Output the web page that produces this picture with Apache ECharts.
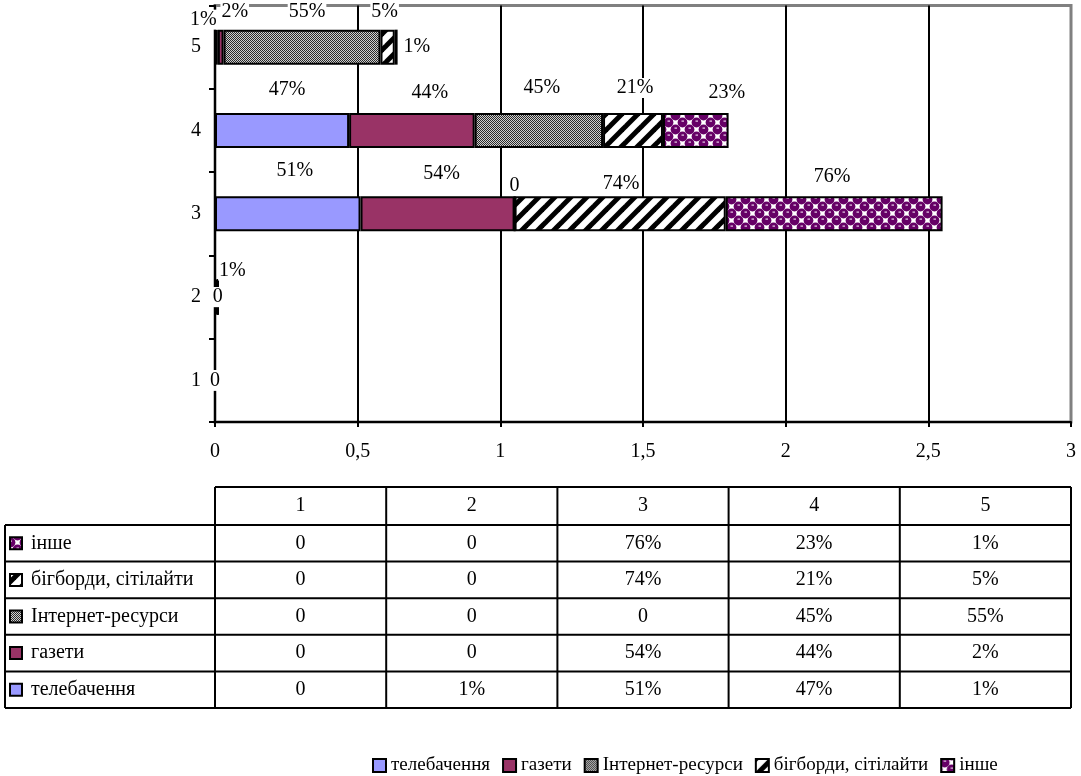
<!DOCTYPE html>
<html><head><meta charset="utf-8">
<script src="https://cdn.jsdelivr.net/npm/echarts@6/dist/echarts.min.js"></script>
<style>html,body{margin:0;padding:0;background:#fff}#c{width:1081px;height:776px}</style>
</head><body><div id="c"></div>
<script>
// ---------- data ----------
const categories = ['1', '2', '3', '4', '5'];
const seriesNames = ['телебачення', 'газети', 'Інтернет-ресурси', 'бігборди, сітілайти', 'інше'];
const tv = [0, 0.01, 0.51, 0.47, 0.01];
const newspapers = [0, 0, 0.54, 0.44, 0.02];
const internet = [0, 0, 0, 0.45, 0.55];
const billboards = [0, 0, 0.74, 0.21, 0.05];
const other = [0, 0, 0.76, 0.23, 0.01];
const xTickLabels = ['0', '0,5', '1', '1,5', '2', '2,5', '3'];
const allSeries = [tv, newspapers, internet, billboards, other];

// ---------- patterns ----------
function mk(w, h, draw) { const c = document.createElement('canvas'); c.width = w; c.height = h; draw(c.getContext('2d')); return c; }
const pInternet = mk(2, 2, g => { g.fillStyle = '#cfcfcf'; g.fillRect(0, 0, 2, 2); g.fillStyle = '#2a2a2a'; g.fillRect(0, 0, 1, 1); g.fillRect(1, 1, 1, 1); });
const pStripes = mk(16, 16, g => {
  g.fillStyle = '#fff'; g.fillRect(0, 0, 16, 16);
  g.strokeStyle = '#000'; g.lineWidth = 5;
  [[-8, 8, 8, -8], [0, 16, 16, 0], [8, 24, 24, 8]].forEach(l => { g.beginPath(); g.moveTo(l[0], l[1]); g.lineTo(l[2], l[3]); g.stroke(); });
});
const pOther = mk(14, 14, g => {
  const P = '#660066';
  g.fillStyle = '#fff'; g.fillRect(0, 0, 14, 14);
  g.fillStyle = P;
  const R = 4.9;
  [[3.5, 3.5], [10.5, 10.5], [-3.5, 10.5], [17.5, 3.5], [10.5, -3.5], [3.5, 17.5], [17.5, 17.5], [-3.5, -3.5]]
    .forEach(c => { g.beginPath(); g.arc(c[0], c[1], R, 0, Math.PI * 2); g.fill(); });
  g.fillStyle = '#e8d0e8';
  g.fillRect(2.5, 1.5, 2.5, 1.2); g.fillRect(9.5, 8.5, 2.5, 1.2);
});
const fills = [
  '#9999FF',
  '#993366',
  { image: pInternet, repeat: 'repeat' },
  { image: pStripes, repeat: 'repeat' },
  { image: pOther, repeat: 'repeat' }
];

// label placement tweaks [position, dx, dy] per series, per category
const labelPlace = [
  [['inside', 0, 0], ['top', 16, 6], ['top', 7, -11], ['top', 5, -8], ['top', -13, 5]],
  [['inside', 0, 0], ['inside', 0, 0], ['top', 4, -8], ['top', 18, -5], ['top', 14, -3]],
  [['inside', 0, 0], ['inside', 0, 0], ['top', 0, 5], ['top', 3, -10], ['top', 5, -3]],
  [['inside', 0, 0], ['inside', 0, 0], ['top', 1, 2], ['top', 2, -10], ['top', -3, -3]],
  [['inside', 0, 0], ['inside', 0, 0], ['top', -2, -5], ['top', 31, -5], ['right', 0, 0]]
];

const FONT = 'Liberation Serif';
const FS = 20;
const fmt = v => v === 0 ? '0' : Math.round(v * 100) + '%';

const GL = 215, GR = 10, GT = 5.5, GB = 354;

const series = allSeries.map((arr, si) => ({
  name: seriesNames[si],
  type: 'bar',
  stack: 'all',
  barWidth: 35,
  itemStyle: { color: fills[si], borderColor: '#000', borderWidth: 2 },
  label: {
    show: true, color: '#000', fontFamily: FONT, fontSize: FS,
    backgroundColor: '#fff', padding: [0, 1],
    formatter: p => fmt(p.value)
  },
  data: arr.map((v, ci) => {
    const lp = labelPlace[si][ci];
    return { value: v, label: { position: lp[0], offset: [lp[1], lp[2]] } };
  }),
  z: 3
}));

const chart = echarts.init(document.getElementById('c'), null, { renderer: 'canvas' });

// ---------- table ----------
function buildTable() {
  const x0 = 5, xL = GL, xR = 1081 - GR;
  const colW = (xR - xL) / categories.length;
  const yTop = 487, yHead = 525, rowH = 36.6;
  const nRows = seriesNames.length;
  const yBot = yHead + rowH * nRows;
  const els = [];
  const line = (x1, y1, x2, y2) => els.push({ type: 'line', shape: { x1, y1, x2, y2 }, style: { stroke: '#000', lineWidth: 2 }, silent: true });
  const text = (x, y, t, align) => els.push({ type: 'text', x, y, style: { text: t, fill: '#000', font: FS + 'px "' + FONT + '"', align: align || 'center', verticalAlign: 'middle' }, silent: true });
  line(xL, yTop, xR, yTop);
  for (let k = 0; k <= categories.length; k++) line(xL + k * colW, yTop, xL + k * colW, yBot);
  line(x0, yHead, x0, yBot);
  for (let r = 0; r <= nRows; r++) line(x0, yHead + r * rowH, xR, yHead + r * rowH);
  categories.forEach((c, k) => text(xL + (k + 0.5) * colW, (yTop + yHead) / 2, c));
  for (let r = 0; r < nRows; r++) {
    const si = nRows - 1 - r;
    const cy = yHead + (r + 0.5) * rowH;
    els.push({ type: 'rect', shape: { x: 10, y: cy - 6, width: 12, height: 12 }, style: { fill: fills[si], stroke: '#000', lineWidth: 2 }, silent: true });
    text(31, cy, seriesNames[si], 'left');
    allSeries[si].forEach((v, k) => text(xL + (k + 0.5) * colW, cy, fmt(v)));
  }
  return els;
}

chart.setOption({
  animation: false,
  backgroundColor: '#fff',
  textStyle: { fontFamily: FONT },
  grid: { left: GL, right: GR, top: GT, bottom: GB, show: true, borderColor: '#808080', borderWidth: 3, backgroundColor: 'transparent' },
  xAxis: {
    type: 'value', min: 0, max: 3, interval: 0.5,
    axisLine: { show: true, lineStyle: { color: '#000', width: 2 } },
    axisTick: { show: true, length: 5, lineStyle: { color: '#000', width: 2 } },
    axisLabel: { color: '#000', fontFamily: FONT, fontSize: FS, margin: 20, formatter: v => xTickLabels[Math.round(v / 0.5)] },
    splitLine: { show: true, showMinLine: false, showMaxLine: false, lineStyle: { color: '#000', width: 2 } }
  },
  yAxis: {
    type: 'category', data: categories,
    axisLine: { show: true, lineStyle: { color: '#000', width: 2 } },
    axisTick: { show: true, length: 6, lineStyle: { color: '#000', width: 2 } },
    axisLabel: { color: '#000', fontFamily: FONT, fontSize: FS, margin: 14 },
    splitLine: { show: false }
  },
  legend: {
    data: seriesNames, left: 367, top: 751, itemWidth: 13, itemHeight: 13, itemGap: 12,
    icon: 'rect',
    textStyle: { color: '#000', fontFamily: FONT, fontSize: 19 },
    itemStyle: { borderColor: '#000', borderWidth: 2 }
  },
  series: series,
  graphic: buildTable()
});
</script></body></html>
